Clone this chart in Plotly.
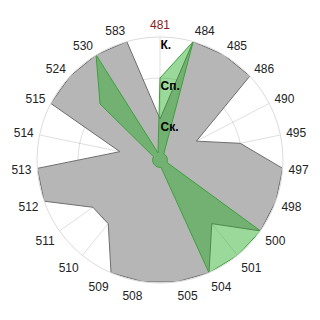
import plotly.graph_objects as go

categories = ["481", "484", "485", "486", "490", "495", "497", "498", "500", "501",
              "504", "505", "508", "509", "510", "511", "512", "513", "514", "515",
              "524", "530", "583"]
gray_values = [1, 3, 3, 3, 1, 2, 3, 3, 3, 2,
               3, 3, 3, 3, 2, 2, 3, 3, 1, 3,
               3, 3, 3]
green_values = [2, 3, 0.18, 0.18, 0.18, 0.18, 0.18, 0.18, 3, 3,
                3, 0.18, 0.18, 0.18, 0.18, 0.18, 0.18, 0.18, 0.18, 0.18,
                2, 3, 0.18]
radial_tickvals = [1, 2, 3]
radial_labels = ["Ск.", "Сп.", "К."]
radial_ticktext = [f" <br><b>{t}</b>" for t in radial_labels]

tick_text = [f"<span style='color:#8b1a1a'>{c}</span>" if i == 0 else c
             for i, c in enumerate(categories)]

fig = go.Figure()
fig.add_trace(go.Scatterpolar(
    r=gray_values + gray_values[:1], theta=categories + categories[:1],
    mode="lines", fill="toself",
    fillcolor="rgb(182,182,182)",
    line=dict(color="rgb(110,110,110)", width=1),
    hoverinfo="skip", showlegend=False))
fig.add_trace(go.Scatterpolar(
    r=green_values + green_values[:1], theta=categories + categories[:1],
    mode="lines", fill="toself",
    fillcolor="rgba(30,170,30,0.45)",
    line=dict(color="rgb(60,160,60)", width=1),
    hoverinfo="skip", showlegend=False))

d0, d1 = 37 / 320, 283 / 320
fig.update_layout(
    width=320, height=320,
    margin=dict(l=0, r=0, t=0, b=0),
    paper_bgcolor="white",
    showlegend=False,
    polar=dict(
        domain=dict(x=[d0, d1], y=[d0, d1]),
        bgcolor="white",
        angularaxis=dict(
            type="category", categoryarray=categories, categoryorder="array",
            direction="clockwise", rotation=90,
            tickvals=categories, ticktext=tick_text,
            showline=True, linecolor="rgb(220,220,220)", linewidth=1,
            gridcolor="rgba(0,0,0,0.13)",
            ticks="outside", ticklen=3, tickcolor="rgba(0,0,0,0)",
            tickfont=dict(family="Liberation Sans, Arial", size=12, color="#222"),
            layer="above traces"),
        radialaxis=dict(
            range=[0, 3], angle=90, tickangle=90,
            tickvals=radial_tickvals, ticktext=radial_ticktext,
            showline=False, ticks="",
            gridcolor="rgba(0,0,0,0.13)",
            tickfont=dict(family="Liberation Sans, Arial", size=12, color="black"),
            layer="above traces"),
    ),
)
fig.write_html("out.html")
